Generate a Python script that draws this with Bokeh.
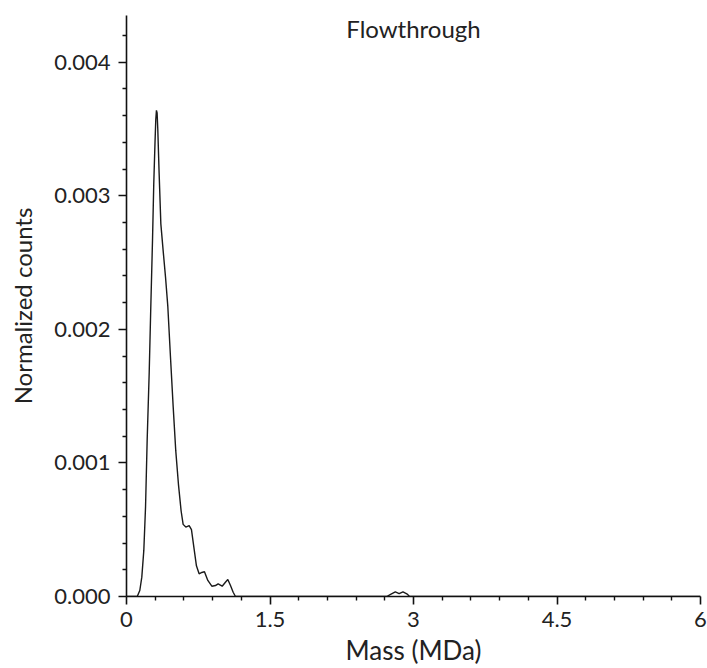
from bokeh.plotting import figure
from bokeh.models import FixedTicker, Range1d, Label, NumeralTickFormatter
from bokeh.embed import file_html
from bokeh.resources import INLINE

title_text = "Flowthrough"
x_label = "Mass (MDa)"
y_label = "Normalized counts"

x_ticks = [0, 1.5, 3, 4.5, 6]
x_tick_labels = {0: "0", 1.5: "1.5", 3: "3", 4.5: "4.5", 6: "6"}
x_minor = [0.3, 0.6, 0.9, 1.2, 1.8, 2.1, 2.4, 2.7, 3.3, 3.6, 3.9, 4.2, 4.8, 5.1, 5.4, 5.7]
y_ticks = [0.0, 0.001, 0.002, 0.003, 0.004]
y_minor = [0.0002, 0.0004, 0.0006, 0.0008, 0.0012, 0.0014, 0.0016, 0.0018,
           0.0022, 0.0024, 0.0026, 0.0028, 0.0032, 0.0034, 0.0036, 0.0038, 0.0042]

mass = [0.0, 0.112, 0.139, 0.160, 0.181, 0.199, 0.216, 0.237, 0.254, 0.272, 0.285,
        0.298, 0.306, 0.313, 0.320, 0.327, 0.341, 0.359, 0.383, 0.408, 0.432, 0.460,
        0.488, 0.515, 0.543, 0.571, 0.592, 0.620, 0.655, 0.679, 0.704, 0.731,
        0.759, 0.787, 0.815, 0.850, 0.892, 0.930, 0.958, 1.000, 1.034, 1.059,
        1.087, 1.115, 1.139, 2.72, 2.77, 2.81, 2.85, 2.89, 2.93, 2.96, 6.0]
counts = [0.0, 0.0, 0.000045, 0.000145, 0.000345, 0.00067, 0.00117, 0.00167, 0.00217,
          0.00267, 0.00309, 0.00340, 0.00357, 0.00364, 0.00362, 0.00350, 0.00317, 0.00279,
          0.00259, 0.00239, 0.00217, 0.00179, 0.00142, 0.00109, 0.00084, 0.00064,
          0.00054, 0.00052, 0.00053, 0.00050, 0.00037, 0.00023, 0.00017, 0.00018,
          0.000185, 0.00012, 0.000077, 0.000082, 0.000095, 0.000077, 0.000107,
          0.000127, 0.000082, 0.000032, 0.0, 0.0, 0.00002, 0.000035, 0.000022,
          0.000035, 0.00002, 0.0, 0.0]

FONT = "Lato"
TXT = "#222222"

p = figure(width=707, height=668, output_backend="svg", toolbar_location=None,
           x_range=Range1d(0, 6), y_range=Range1d(0, 0.00435),
           min_border_left=126, min_border_right=7, min_border_top=15,
           min_border_bottom=72)
p.outline_line_color = None
p.xgrid.visible = False
p.ygrid.visible = False

p.line(mass, counts, line_color="#1a1a1a", line_width=1.4)

for ax in (p.xaxis[0], p.yaxis[0]):
    ax.axis_line_color = "#111111"
    ax.axis_line_width = 1.6
    ax.major_tick_line_color = "#111111"
    ax.major_tick_line_width = 1.6
    ax.minor_tick_line_color = "#111111"
    ax.minor_tick_line_width = 1.4
    ax.major_tick_in = 0
    ax.major_tick_out = 8
    ax.minor_tick_in = 0
    ax.minor_tick_out = 4
    ax.major_label_text_font = FONT
    ax.major_label_text_font_size = "22px"
    ax.major_label_text_color = TXT
    ax.axis_label_text_font = FONT
    ax.axis_label_text_font_style = "normal"
    ax.axis_label_text_color = TXT

p.xaxis[0].ticker = FixedTicker(ticks=x_ticks, minor_ticks=x_minor)
p.xaxis[0].major_label_overrides = x_tick_labels
p.xaxis[0].axis_label = x_label
p.xaxis[0].axis_label_text_font_size = "26px"
p.xaxis[0].major_label_standoff = 7
p.xaxis[0].axis_label_standoff = 4

p.yaxis[0].ticker = FixedTicker(ticks=y_ticks, minor_ticks=y_minor)
p.yaxis[0].formatter = NumeralTickFormatter(format="0.000")
p.yaxis[0].axis_label = y_label
p.yaxis[0].axis_label_text_font_size = "24px"
p.yaxis[0].major_label_standoff = 8
p.yaxis[0].axis_label_standoff = 14

p.add_layout(Label(x=3, y=0.00425, text=title_text, text_align="center",
                   text_baseline="alphabetic", text_font=FONT, text_font_size="24px",
                   text_color=TXT))

open("out.html", "w").write(file_html(p, INLINE))
